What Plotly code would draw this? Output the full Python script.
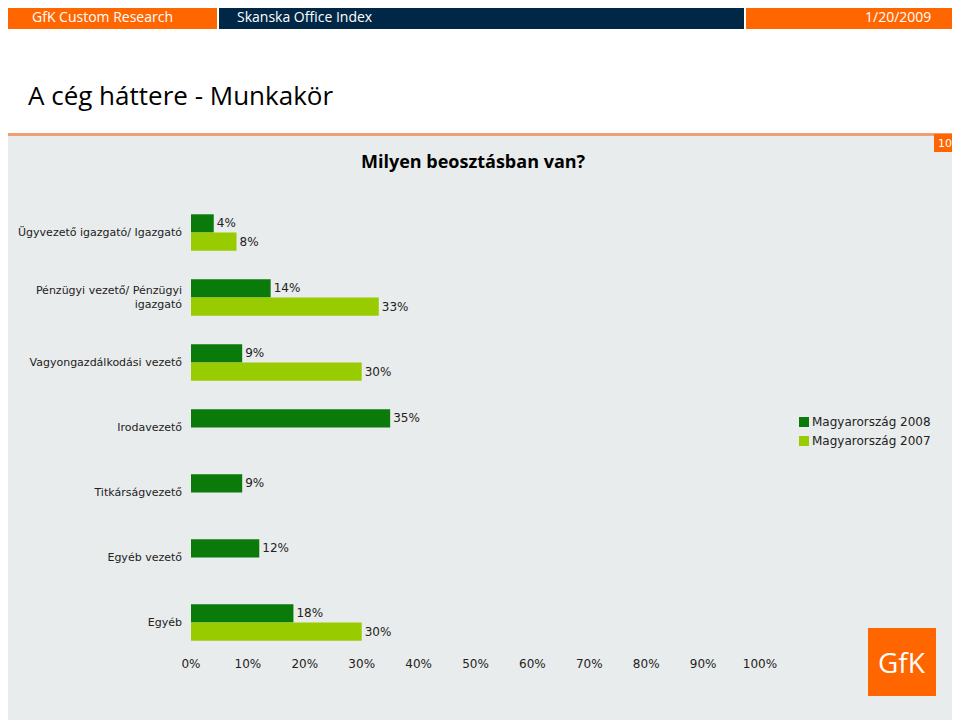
import plotly.graph_objects as go

categories = ["Ügyvezető igazgató/ Igazgató", "Pénzügyi vezető/ Pénzügyi<br>igazgató",
              "Vagyongazdálkodási vezető", "Irodavezető", "Titkárságvezető",
              "Egyéb vezető", "Egyéb"]
v2008 = [4, 14, 9, 35, 9, 12, 18]
v2007 = [8, 33, 30, None, None, None, 30]
xticks = [0, 10, 20, 30, 40, 50, 60, 70, 80, 90, 100]
series = [("Magyarország 2008", v2008, "#0A7A0A"), ("Magyarország 2007", v2007, "#99CC00")]

OFF = 8  # page body margin offset (screen coords = figure coords + OFF)
W, H = 952, 712
L, R, T, B = 191 - OFF, (W + OFF) - 760, 200 - OFF, 720 - 655
PW, PH = W - L - R, H - T - B

fig = go.Figure()
for name, vals, col in series:
    fig.add_trace(go.Bar(y=categories, x=vals, name=name, orientation="h", showlegend=False,
                         marker=dict(color=col, line=dict(width=0)),
                         text=[f"{v}%" if v is not None else "" for v in vals],
                         textposition="outside", cliponaxis=False,
                         textfont=dict(family="DejaVu Sans", size=12, color="#222")))

def fx(x): return (x - OFF - L) / PW
def fy(y): return (H - B - (y - OFF)) / PH

def rect(x0, y0, x1, y1, color):
    return dict(type="rect", xref="paper", yref="paper", x0=fx(x0), x1=fx(x1),
                y0=fy(y1), y1=fy(y0), fillcolor=color, line=dict(width=0), layer="below")

def ann(x, y, text, size, color, xanchor="left", family="DejaVu Sans"):
    return dict(xref="paper", yref="paper", x=fx(x), y=fy(y), text=text, showarrow=False,
                xanchor=xanchor, yanchor="middle", font=dict(size=size, color=color, family=family))

shapes = [
    rect(0, 0, 217, 29, "#FF6600"), rect(219, 0, 744, 29, "#002846"), rect(746, 0, 970, 29, "#FF6600"),
    rect(0, 133, 970, 136, "#F0A070"), rect(0, 136, 970, 730, "#E9ECEC"),
    rect(934, 134, 956, 152, "#FF6600"), rect(868, 628, 936, 696, "#FF6600"),
]
anns = [
    ann(30, 16, "GfK Custom Research", 14, "white", family="Open Sans"),
    ann(235, 16, "Skanska Office Index", 14, "white", family="Open Sans"),
    ann(933, 16, "1/20/2009", 14, "white", xanchor="right", family="Open Sans"),
    ann(26, 95, "A cég háttere - Munkakör", 26, "black", family="Open Sans"),
    ann(473, 161, "<b>Milyen beosztásban van?</b>", 18, "black", xanchor="center", family="Open Sans"),
    ann(945, 143, "10", 11, "white", xanchor="center"),
    ann(902, 662, "GfK", 28, "white", xanchor="center", family="Open Sans"),
]
for i, (name, vals, col) in enumerate(series):
    yy = 422 + i * 19
    shapes.append(rect(799, yy - 5, 809, yy + 5, col))
    anns.append(ann(810, yy, name, 12, "#222"))

fig.update_layout(
    width=W, height=H, paper_bgcolor="white", plot_bgcolor="rgba(0,0,0,0)",
    margin=dict(l=L, r=R, t=T, b=B, autoexpand=False), barmode="group", bargap=0.44, bargroupgap=0,
    shapes=shapes, annotations=anns, showlegend=False,
    xaxis=dict(range=[0, 100], tickvals=xticks, ticktext=[f"{t}%" for t in xticks],
               showgrid=False, zeroline=False, showline=False, automargin=False,
               tickfont=dict(family="DejaVu Sans", size=12, color="#222")),
    yaxis=dict(autorange="reversed", showgrid=False, showline=False, automargin=False,
               ticks="", ticklabelstandoff=8,
               tickfont=dict(family="DejaVu Sans", size=11, color="#222")),
)
fig.write_html("out.html")
